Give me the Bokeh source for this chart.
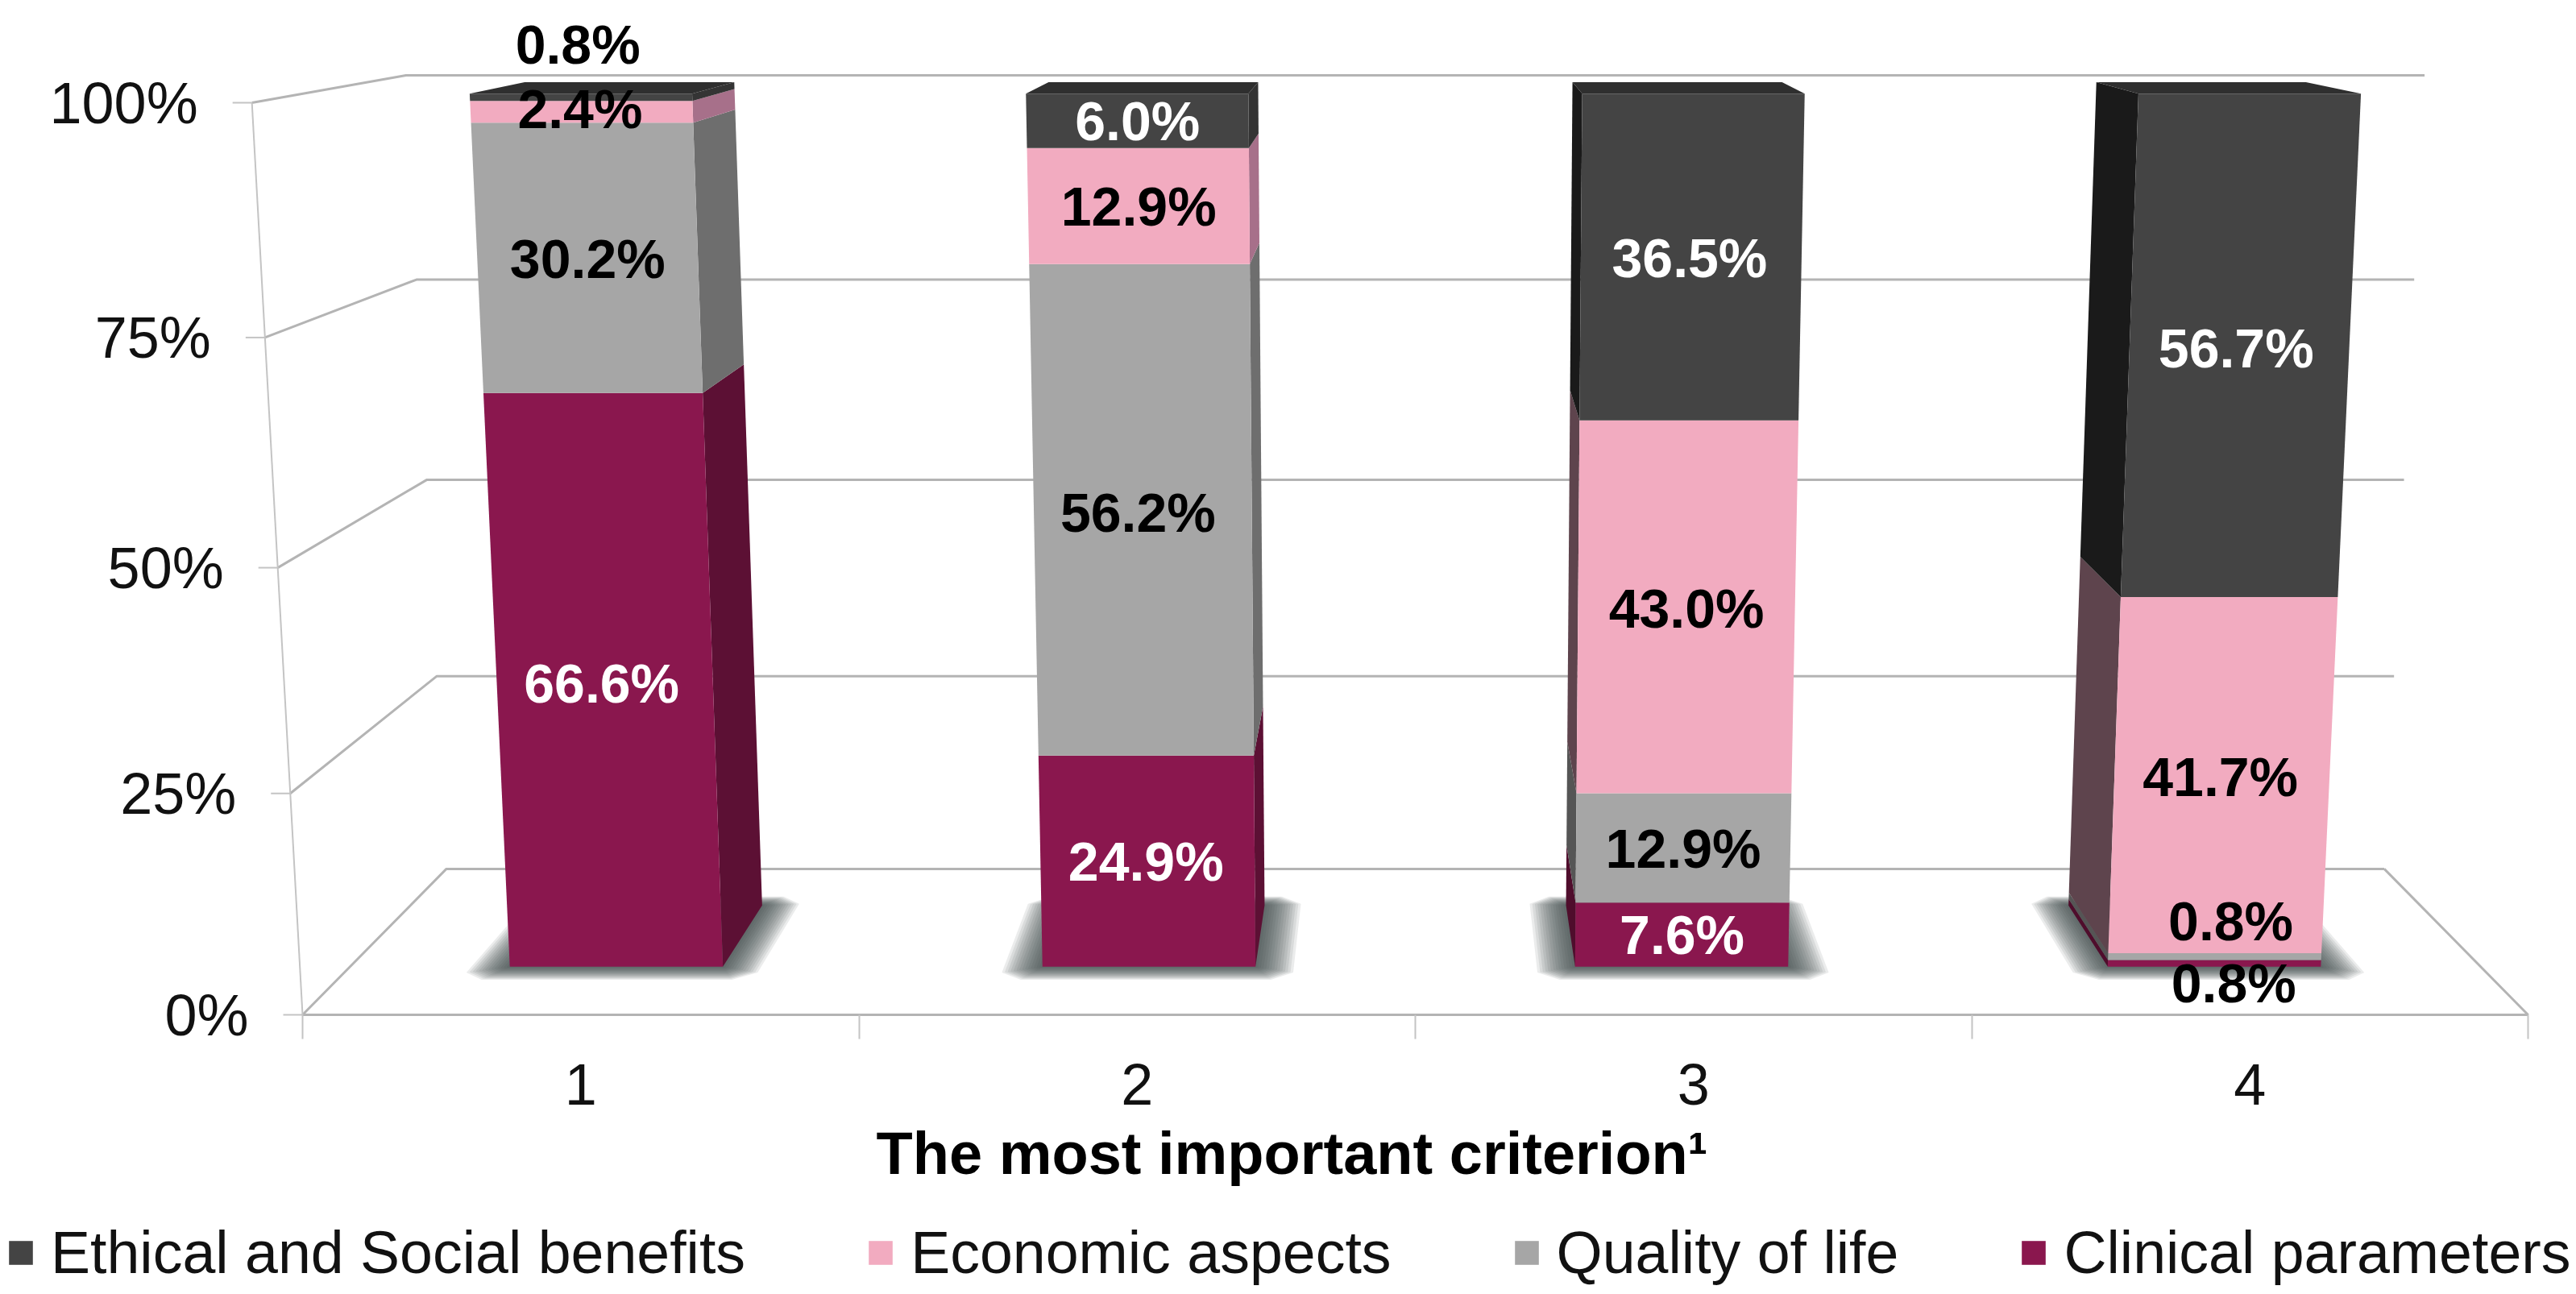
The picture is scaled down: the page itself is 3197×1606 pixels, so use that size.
from bokeh.embed import file_html
from bokeh.resources import INLINE
from bokeh.core.properties import value
from bokeh.models import FixedTicker, Legend, LegendItem, LinearAxis, Range1d
from bokeh.plotting import figure

# Chart data: share of respondents per rank, stacked from the floor upward
ranks = ["1", "2", "3", "4"]
clinical = [66.6, 24.9, 7.6, 0.8]
quality = [30.2, 56.2, 12.9, 0.8]
economic = [2.4, 12.9, 43.0, 41.7]
ethical = [0.8, 6.0, 36.5, 56.7]
value_ticks = [0, 25, 50, 75, 100]
value_tick_labels = ["0%", "25%", "50%", "75%", "100%"]

stack_order = ["Clinical parameters", "Quality of life", "Economic aspects", "Ethical and Social benefits"]
legend_order = ["Ethical and Social benefits", "Economic aspects", "Quality of life", "Clinical parameters"]
series_values = dict(zip(stack_order, [clinical, quality, economic, ethical]))

front_colors = dict(zip(stack_order, ["#8a174e", "#a6a6a6", "#f2abc0", "#444444"]))
right_side_colors = dict(zip(stack_order, ["#5c1034", "#6e6e6e", "#a7708a", "#343434"]))
left_side_colors = dict(zip(stack_order, ["#4f0d2c", "#555555", "#5e444d", "#1a1a1a"]))
label_colors = dict(zip(stack_order, ["white", "black", "black", "white"]))
# Labels that sit outside their thin segment are drawn dark on the white floor or wall
outside_labels = {("Ethical and Social benefits", 0), ("Clinical parameters", 3)}
top_color = "#2f2f2f"
grid_color = "#b4b4b4"

# Pixel nudges for the data labels that the chart places away from their segment centre
label_nudges = {
    ("Ethical and Social benefits", 0): (-4, -66),
    ("Economic aspects", 0): (-2, -4),
    ("Clinical parameters", 0): (-4, 0),
    ("Quality of life", 1): (-6, 0),
    ("Clinical parameters", 1): (-2, 0),
    ("Ethical and Social benefits", 2): (-2, 0),
    ("Economic aspects", 3): (-2, 0),
    ("Quality of life", 3): (20, -44),
    ("Clinical parameters", 3): (24, 24),
    ("Ethical and Social benefits", 3): (-4, 0),
}

PX_PER_UNIT_X = 690.5   # one category on the front floor edge
PX_PER_UNIT_Y = 11.32   # one percent on the front wall
FRONT_LEFT_PX = 375
FLOOR_PX = 1259
WIDTH, HEIGHT = 3197, 1606


def lift(v):
    """Perspective compression of the value axis."""
    t = v / 100
    return t / (1 + 0.04 * (1 - t))


def project(u, v, d):
    """Map category position u, value v and depth d (0 front, 1 back) to plot coordinates."""
    s = lift(v)
    half_front = 2 + 0.091 * s
    half_back = 1.7415 + 0.0725 * s
    half = half_front + (half_back - half_front) * d
    x = 2 + (u - 2) / 2 * half
    floor_y = 16.0 * d
    top_y = 100 + 3 * d
    return x, floor_y + (top_y - floor_y) * s


def quad(points):
    xy = [project(*pt) for pt in points]
    return [pt[0] for pt in xy], [pt[1] for pt in xy]


p = figure(
    width=WIDTH, height=HEIGHT, output_backend="svg", toolbar_location=None,
    x_range=Range1d(-FRONT_LEFT_PX / PX_PER_UNIT_X, (WIDTH - FRONT_LEFT_PX) / PX_PER_UNIT_X),
    y_range=Range1d((FLOOR_PX - HEIGHT) / PX_PER_UNIT_Y, FLOOR_PX / PX_PER_UNIT_Y),
    x_axis_location=None, y_axis_location=None,
    min_border_left=0, min_border_right=0, min_border_top=0, min_border_bottom=0,
    background_fill_color="white", border_fill_color="white",
)
p.outline_line_color = None
p.grid.visible = False

# Walls and floor of the plot box
for v in value_ticks:
    xs, ys = quad([(0, v, 0), (0, v, 1), (4, v, 1)])
    p.line(xs, ys, line_color=grid_color, line_width=3)
xs, ys = quad([(0, 0, 0), (4, 0, 0), (4, 0, 1)])
p.line(xs, ys, line_color=grid_color, line_width=3)
xs, ys = quad([(0, 100, 0), (0, 0, 0)])
p.line(xs, ys, line_color="#c4c4c4", line_width=2)

# Value ticks and labels along the tilted front edge
tick_len = 24 / PX_PER_UNIT_X
label_gap = 67 / PX_PER_UNIT_X
for v, text in zip(value_ticks, value_tick_labels):
    x, y = project(0, v, 0)
    p.line([x - tick_len, x], [y, y], line_color="#c4c4c4", line_width=2)
    p.text([x - label_gap], [y], text=[text], text_align="right", text_baseline="middle",
           text_font=value("Liberation Sans"), text_font_size="72px", text_color="#111111")

BAR_LOW, BAR_HIGH = 0.30, 0.70
DEPTH_FRONT, DEPTH_BACK = 0.33, 0.75

# Soft shadow on the floor: nested translucent footprints with rounded-off corners
SHADOW_STEPS = 14
for i in range(len(ranks)):
    ul, ur = i + BAR_LOW, i + BAR_HIGH
    for k in range(SHADOW_STEPS, 0, -1):
        grow = k / SHADOW_STEPS
        mu, mf, mb = 0.072 * grow, 0.09 * grow, 0.06 * grow
        cu, cd = 0.04 * grow, 0.05 * grow
        df, db = DEPTH_FRONT - mf, DEPTH_BACK + mb
        left, right = ul - mu, ur + mu
        xs, ys = quad([(left + cu, 0, df), (right - cu, 0, df), (right, 0, df + cd),
                       (right, 0, db - cd), (right - cu, 0, db), (left + cu, 0, db),
                       (left, 0, db - cd), (left, 0, df + cd)])
        p.patch(xs, ys, fill_color="#3e4444", fill_alpha=0.1, line_color=None)

# Bars: side faces, top cap and front faces, stacked from the floor upward
front_renderers = {}
front_patches = {name: ([], []) for name in stack_order}
label_rows = []
for i in range(len(ranks)):
    ul, ur = i + BAR_LOW, i + BAR_HIGH
    side_u = ur if i < 2 else ul
    side_colors = right_side_colors if i < 2 else left_side_colors
    base = 0.0
    for name in stack_order:
        top = base + series_values[name][i]
        xs, ys = quad([(side_u, base, DEPTH_FRONT), (side_u, top, DEPTH_FRONT),
                       (side_u, top, DEPTH_BACK), (side_u, base, DEPTH_BACK)])
        p.patch(xs, ys, fill_color=side_colors[name], line_color=None)
        xs, ys = quad([(ul, base, DEPTH_FRONT), (ur, base, DEPTH_FRONT),
                       (ur, top, DEPTH_FRONT), (ul, top, DEPTH_FRONT)])
        front_patches[name][0].append(xs)
        front_patches[name][1].append(ys)
        cx, cy = project(i + 0.5, (base + top) / 2, DEPTH_FRONT)
        dx, dy = label_nudges.get((name, i), (0, 0))
        color = "black" if (name, i) in outside_labels else label_colors[name]
        label_rows.append((cx + dx / PX_PER_UNIT_X, cy - dy / PX_PER_UNIT_Y,
                           f"{series_values[name][i]:.1f}%", color))
        base = top
    xs, ys = quad([(ul, base, DEPTH_FRONT), (ur, base, DEPTH_FRONT),
                   (ur, base, DEPTH_BACK), (ul, base, DEPTH_BACK)])
    p.patch(xs, ys, fill_color=top_color, line_color=None)

for name in stack_order:
    front_renderers[name] = p.patches(front_patches[name][0], front_patches[name][1],
                                      fill_color=front_colors[name], line_color=None)

# Data labels
p.text([r[0] for r in label_rows], [r[1] for r in label_rows], text=[r[2] for r in label_rows],
       text_color=[r[3] for r in label_rows], text_align="center", text_baseline="middle",
       text_font=value("Liberation Sans"), text_font_style="bold", text_font_size="68px")

# Category axis pinned to the floor edge: ticks between bars, labels at bar centres
centres = [i + 0.5 for i in range(len(ranks))]
axis = LinearAxis(
    fixed_location=0,
    ticker=FixedTicker(ticks=centres, minor_ticks=[0, 1, 2, 3, 4]),
    major_label_overrides=dict(zip(centres, ranks)),
    bounds=(-0.53, 4.12),
    axis_line_color=None,
    major_tick_line_color=None, major_tick_in=0, major_tick_out=0,
    minor_tick_line_color="#c4c4c4", minor_tick_line_width=2, minor_tick_in=0, minor_tick_out=30,
    major_label_text_font="Liberation Sans", major_label_text_font_size="72px",
    major_label_text_color="#111111", major_label_standoff=31,
    axis_label="The most important criterion\u00b9",
    axis_label_text_font="Liberation Sans", axis_label_text_font_size="74px",
    axis_label_text_font_style="bold", axis_label_text_color="black", axis_label_standoff=16,
)
p.add_layout(axis, "below")

legend = Legend(
    items=[LegendItem(label=name, renderers=[front_renderers[name]]) for name in legend_order],
    orientation="horizontal", location=(7, 9),
    glyph_width=37, glyph_height=37, label_standoff=19, spacing=149,
    margin=0, padding=0, border_line_color=None, background_fill_alpha=0,
    label_text_font="Liberation Sans", label_text_font_size="73.5px", label_text_color="#111111",
    label_height=37,
)
p.add_layout(legend)

open("out.html", "w").write(file_html(p, INLINE))
